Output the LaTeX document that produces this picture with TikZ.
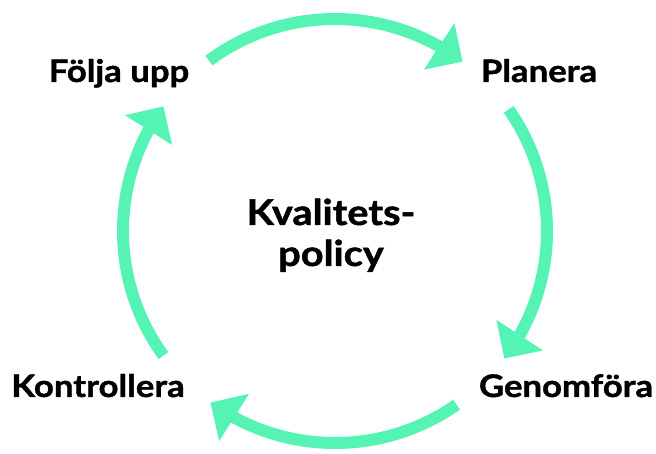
\documentclass[tikz,border=0pt]{standalone}
\usepackage{fontspec}
\newfontfamily\labfont{Lato}[FakeStretch=1.12,FakeBold=1.3]
\usetikzlibrary{arrows.meta,bending}
\definecolor{cyc}{HTML}{55F4B4}
\begin{document}
\begin{tikzpicture}[x=1pt,y=1pt,
  lab/.style={font=\labfont\bfseries\fontsize{31}{33}\selectfont, inner sep=0pt, anchor=base},
  ctr/.style={font=\labfont\bfseries\fontsize{35.5}{38}\selectfont, inner sep=0pt, anchor=base},
  cycarrow/.style={draw=cyc, line width=12pt, -{Triangle[length=28pt,width=54pt,flex]}}]
\useasboundingbox[fill=white] (0,0) rectangle (656,454);
\coordinate (c) at (335,223);
\node[lab] (folja) at (119,372) {Följa upp};
\node[lab] (planera) at (539,372) {Planera};
\node[lab] (kontr) at (98,57) {Kontrollera};
\node[lab] (genom) at (566,57) {Genomföra};
\node[ctr] (kval) at (331,229) {Kvalitets-};
\node[ctr] (pol) at (331,188) {policy};
\draw[cycarrow] ([shift={(126.5:212pt)}]c) arc[start angle=126.5, end angle=53, radius=212pt];
\draw[cycarrow] ([shift={(35:212pt)}]c) arc[start angle=35, end angle=-37, radius=212pt];
\draw[cycarrow] ([shift={(-55:212pt)}]c) arc[start angle=-55, end angle=-126, radius=212pt];
\draw[cycarrow] ([shift={(-144:212pt)}]c) arc[start angle=-144, end angle=-216, radius=212pt];
\end{tikzpicture}
\end{document}
